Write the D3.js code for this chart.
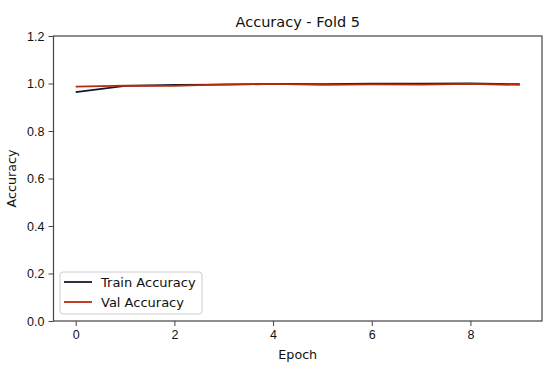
<!DOCTYPE html>
<html>
<head>
<meta charset="utf-8">
<script src="https://cdn.jsdelivr.net/npm/d3@7"></script>
<style>
  body { margin: 0; background: #fff; }
  svg { font-family: "DejaVu Sans", sans-serif; }
  .tick text { font-size: 12.5px; fill: #111; }
</style>
</head>
<body>
<div id="chart"></div>
<script>
// values
let epochs = [0, 1, 2, 3, 4, 5, 6, 7, 8, 9]
let trainAcc = [0.964, 0.990, 0.994, 0.995, 0.998, 0.997, 0.999, 0.999, 1.000, 0.997]
let valAcc = [0.987, 0.991, 0.990, 0.996, 0.998, 0.994, 0.996, 0.995, 0.998, 0.994]
let xTicks = [0, 2, 4, 6, 8]
let yTicks = [0.0, 0.2, 0.4, 0.6, 0.8, 1.0, 1.2]

let width = 550
let height = 370
let margin = {top: 36, right: 8, bottom: 49, left: 53.5}

let svg = d3.select("#chart")
    .append("svg")
    .attr("width", width)
    .attr("height", height)

let xScale = d3.scaleLinear()
    .domain([-0.45, 9.45])
    .range([margin.left, width - margin.right])

let yScale = d3.scaleLinear()
    .domain([0, 1.2])
    .range([height - margin.bottom, margin.top])

let axisColor = "#444"

// x axis
let xAxis = svg.append("g")
    .attr("transform", `translate(0, ${height - margin.bottom})`)
    .call(d3.axisBottom(xScale).tickValues(xTicks).tickFormat(d3.format("d")).tickSize(5).tickPadding(4))
xAxis.select(".domain").remove()

// y axis
let yAxis = svg.append("g")
    .attr("transform", `translate(${margin.left}, 0)`)
    .call(d3.axisLeft(yScale).tickValues(yTicks).tickFormat(d3.format(".1f")).tickSize(5).tickPadding(4))
yAxis.select(".domain").remove()

svg.selectAll(".tick line").attr("stroke", axisColor)

// frame
svg.append("rect")
    .attr("x", margin.left)
    .attr("y", margin.top)
    .attr("width", width - margin.right - margin.left)
    .attr("height", height - margin.bottom - margin.top)
    .attr("fill", "none")
    .attr("stroke", axisColor)
    .attr("stroke-width", 1.2)

let line = d3.line()
    .x(function(d, i){ return xScale(epochs[i]) })
    .y(function(d){ return yScale(d) })

svg.append("path")
    .datum(trainAcc)
    .attr("d", line)
    .attr("fill", "none")
    .attr("stroke", "#111a2e")
    .attr("stroke-width", 1.8)

svg.append("path")
    .datum(valAcc)
    .attr("d", line)
    .attr("fill", "none")
    .attr("stroke", "#b82a0c")
    .attr("stroke-width", 1.8)

// title + labels
svg.append("text")
    .attr("x", (margin.left + width - margin.right) / 2)
    .attr("y", 27)
    .attr("text-anchor", "middle")
    .attr("font-size", 14.5)
    .attr("fill", "#111")
    .text("Accuracy - Fold 5")

svg.append("text")
    .attr("x", (margin.left + width - margin.right) / 2)
    .attr("y", 359)
    .attr("text-anchor", "middle")
    .attr("font-size", 12.7)
    .attr("fill", "#111")
    .text("Epoch")

svg.append("text")
    .attr("transform", `translate(16, ${(margin.top + height - margin.bottom) / 2}) rotate(-90)`)
    .attr("text-anchor", "middle")
    .attr("font-size", 12.7)
    .attr("fill", "#111")
    .text("Accuracy")

// legend
let legend = svg.append("g").attr("transform", "translate(60, 272)")
legend.append("rect")
    .attr("width", 142)
    .attr("height", 42)
    .attr("rx", 3)
    .attr("fill", "#fff")
    .attr("fill-opacity", 0.8)
    .attr("stroke", "#ccc")

let legendItems = [
    {label: "Train Accuracy", color: "#111a2e"},
    {label: "Val Accuracy", color: "#b82a0c"}
]
legendItems.forEach(function(item, i){
    let y = 10 + i * 20
    legend.append("line")
        .attr("x1", 4).attr("x2", 32)
        .attr("y1", y).attr("y2", y)
        .attr("stroke", item.color)
        .attr("stroke-width", 1.8)
    legend.append("text")
        .attr("x", 41)
        .attr("y", y + 4.5)
        .attr("font-size", 13)
        .attr("fill", "#111")
        .text(item.label)
})
</script>
</body>
</html>
